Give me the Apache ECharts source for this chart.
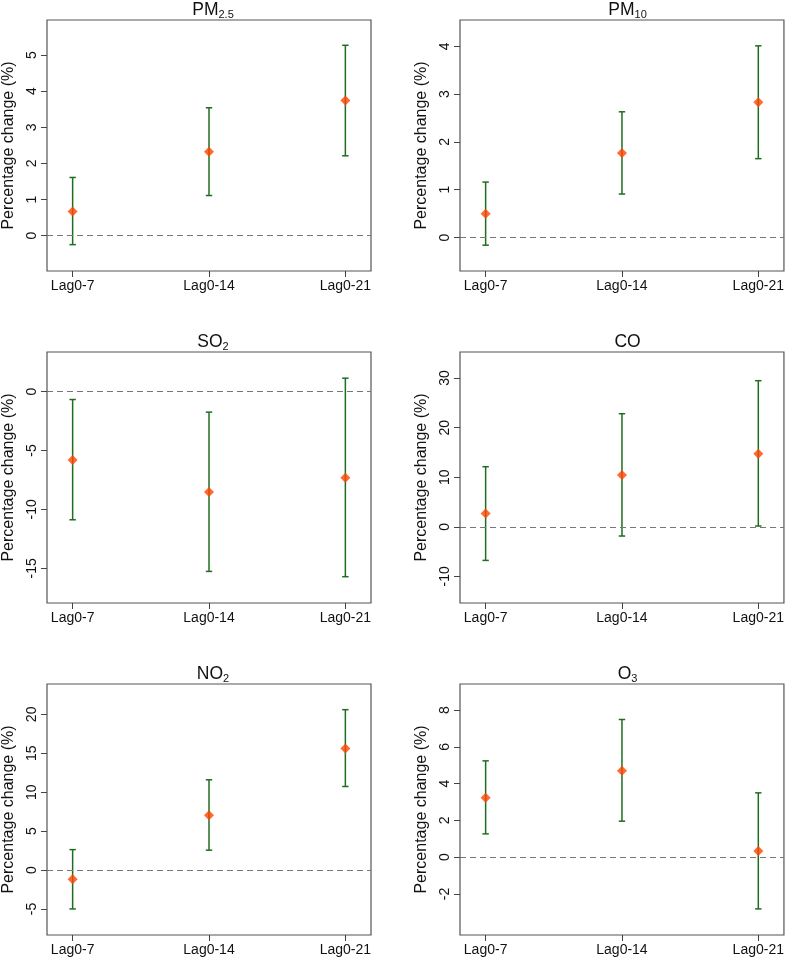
<!DOCTYPE html>
<html>
<head>
<meta charset="utf-8">
<script src="https://cdn.jsdelivr.net/npm/echarts@6/dist/echarts.min.js"></script>
<style>
html,body{margin:0;padding:0;background:#fff;}
#chart{width:787px;height:958px;}
</style>
</head>
<body>
<div id="chart"></div>
<script>
// ---- data ----
const categories = ['Lag0-7', 'Lag0-14', 'Lag0-21'];
const xPos = [1, 2, 3];

const pm25Est = [0.67, 2.32, 3.74];
const pm25Lo  = [-0.25, 1.11, 2.21];
const pm25Hi  = [1.61, 3.54, 5.27];
const pm25Ticks = [0, 1, 2, 3, 4, 5];

const pm10Est = [0.50, 1.77, 2.83];
const pm10Lo  = [-0.16, 0.91, 1.65];
const pm10Hi  = [1.16, 2.63, 4.01];
const pm10Ticks = [0, 1, 2, 3, 4];

const so2Est = [-5.81, -8.52, -7.31];
const so2Lo  = [-10.88, -15.26, -15.71];
const so2Hi  = [-0.68, -1.75, 1.13];
const so2Ticks = [-15, -10, -5, 0];

const coEst = [2.70, 10.45, 14.74];
const coLo  = [-6.78, -1.86, 0.16];
const coHi  = [12.12, 22.81, 29.47];
const coTicks = [-10, 0, 10, 20, 30];

const no2Est = [-1.18, 7.05, 15.62];
const no2Lo  = [-5.00, 2.55, 10.73];
const no2Hi  = [2.62, 11.59, 20.60];
const no2Ticks = [-5, 0, 5, 10, 15, 20];

const o3Est = [3.24, 4.70, 0.34];
const o3Lo  = [1.27, 1.96, -2.81];
const o3Hi  = [5.24, 7.49, 3.50];
const o3Ticks = [-2, 0, 2, 4, 6, 8];

// ---- panels ----
const panels = [
  {main: 'PM', sub: '2.5', est: pm25Est, lo: pm25Lo, hi: pm25Hi, ticks: pm25Ticks, ymin: -0.98, ymax: 5.97, col: 0, row: 0},
  {main: 'PM', sub: '10',  est: pm10Est, lo: pm10Lo, hi: pm10Hi, ticks: pm10Ticks, ymin: -0.70, ymax: 4.55, col: 1, row: 0},
  {main: 'SO', sub: '2',   est: so2Est,  lo: so2Lo,  hi: so2Hi,  ticks: so2Ticks,  ymin: -17.94, ymax: 3.35, col: 0, row: 1},
  {main: 'CO', sub: '',    est: coEst,   lo: coLo,   hi: coHi,   ticks: coTicks,   ymin: -15.37, ymax: 35.26, col: 1, row: 1},
  {main: 'NO', sub: '2',   est: no2Est,  lo: no2Lo,  hi: no2Hi,  ticks: no2Ticks,  ymin: -8.35, ymax: 23.9, col: 0, row: 2},
  {main: 'O',  sub: '3',   est: o3Est,   lo: o3Lo,   hi: o3Hi,   ticks: o3Ticks,   ymin: -4.23, ymax: 9.42, col: 1, row: 2}
];

const FONT = 'Liberation Sans, Arial, Helvetica, sans-serif';
const colLeft = [45, 460];
const colWidth = [326, 325];
const rowTop = [20, 352, 684];
const gridH = 251;

const grids = [], xAxes = [], yAxes = [], series = [], titles = [];

function renderErr(params, api) {
  const x = api.value(0), lo = api.value(1), hi = api.value(2);
  const a = api.coord([x, lo]), b = api.coord([x, hi]);
  const hw = 3.2;
  const st = {stroke: '#1f6e1f', lineWidth: 1.5};
  return {type: 'group', children: [
    {type: 'line', shape: {x1: a[0], y1: a[1], x2: b[0], y2: b[1]}, style: st},
    {type: 'line', shape: {x1: a[0] - hw, y1: a[1], x2: a[0] + hw, y2: a[1]}, style: st},
    {type: 'line', shape: {x1: b[0] - hw, y1: b[1], x2: b[0] + hw, y2: b[1]}, style: st}
  ]};
}

panels.forEach(function (p, i) {
  const left = colLeft[p.col], width = colWidth[p.col], top = rowTop[p.row];
  grids.push({left: left, top: top, width: width, height: gridH, show: true,
              borderColor: '#555', borderWidth: 1.2, backgroundColor: 'transparent', containLabel: false});
  xAxes.push({
    gridIndex: i, type: 'value', min: 0.812, max: 3.188, position: 'bottom',
    axisLine: {show: false, onZero: false},
    axisTick: {show: true, length: 6, customValues: xPos, lineStyle: {color: '#444', width: 1}},
    axisLabel: {show: true, customValues: xPos, margin: 8, fontSize: 14, color: '#111', fontFamily: FONT,
                formatter: function (v) { return categories[Math.round(v) - 1]; }},
    splitLine: {show: false}
  });
  yAxes.push({
    gridIndex: i, type: 'value', min: p.ymin, max: p.ymax, position: 'left',
    name: 'Percentage change (%)', nameLocation: 'middle', nameGap: 30,
    nameTextStyle: {fontSize: 16, color: '#111', fontFamily: FONT},
    axisLine: {show: false, onZero: false},
    axisTick: {show: true, length: 6, customValues: p.ticks, lineStyle: {color: '#444', width: 1}},
    axisLabel: {show: true, customValues: p.ticks, rotate: 90, margin: 8, fontSize: 14, color: '#111', fontFamily: FONT},
    splitLine: {show: false}
  });
  titles.push({
    text: p.sub ? '{m|' + p.main + '}{s|' + p.sub + '}' : '{m|' + p.main + '}',
    left: left + width / 2, top: top - 25, textAlign: 'center',
    textStyle: {
      fontWeight: 'normal',
      rich: {
        m: {fontSize: 17.5, fontWeight: 'normal', fontFamily: FONT, color: '#111', lineHeight: 20},
        s: {fontSize: 11, fontWeight: 'normal', fontFamily: FONT, color: '#111', lineHeight: 20, padding: [9, 0, 0, 0]}
      }
    }
  });
  series.push({
    type: 'custom', xAxisIndex: i, yAxisIndex: i, renderItem: renderErr, z: 2,
    encode: {x: 0, y: [1, 2]},
    data: xPos.map(function (x, k) { return [x, p.lo[k], p.hi[k]]; }),
    silent: true
  });
  series.push({
    type: 'scatter', xAxisIndex: i, yAxisIndex: i, z: 3,
    symbol: 'diamond', symbolSize: 10,
    itemStyle: {color: '#ff4500'},
    data: xPos.map(function (x, k) { return [x, p.est[k]]; }),
    markLine: {
      silent: true, symbol: ['none', 'none'], label: {show: false},
      lineStyle: {color: '#777', type: [6, 4], width: 1.2},
      data: [{yAxis: 0}], animation: false
    },
    silent: true
  });
});

const chart = echarts.init(document.getElementById('chart'), null, {renderer: 'canvas'});
chart.setOption({
  animation: false,
  backgroundColor: '#fff',
  title: titles,
  grid: grids,
  xAxis: xAxes,
  yAxis: yAxes,
  series: series
});
</script>
</body>
</html>
